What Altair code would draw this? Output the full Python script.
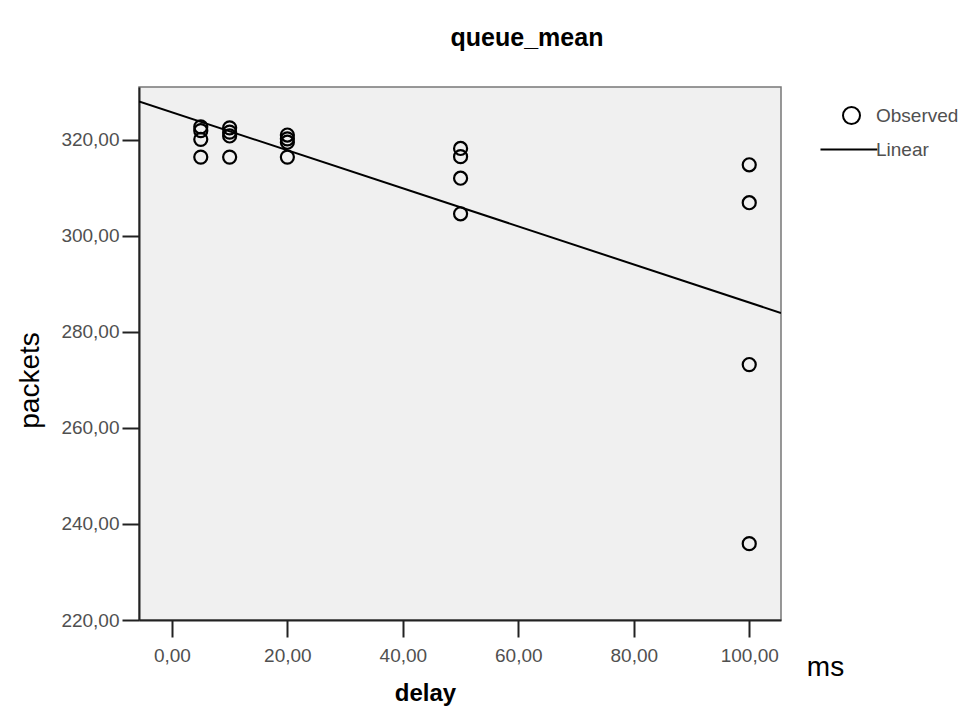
import altair as alt
import pandas as pd

# delay (ms) and queue_mean (packets) observations
delay = [5, 5, 5, 5,
         10, 10, 10, 10,
         20, 20, 20, 20,
         50, 50, 50, 50,
         100, 100, 100, 100]
queue_mean = [322.7, 321.9, 320.1, 316.4,
              322.5, 321.6, 320.8, 316.4,
              321.0, 320.2, 319.5, 316.4,
              318.2, 316.5, 312.0, 304.6,
              314.8, 306.9, 273.2, 235.9]
series = ["Observed"] * len(delay)

x_ticks = [0, 20, 40, 60, 80, 100]
y_ticks = [220, 240, 260, 280, 300, 320]
x_domain = [-5.7, 105.5]
y_domain = [220, 331]

df = pd.DataFrame({"delay": delay, "queue": queue_mean, "series": series})

FONT = "Liberation Sans"
LABEL_EXPR = "replace(format(datum.value, '.2f'), '.', ',')"

xscale = alt.Scale(domain=x_domain, nice=False, zero=False)
yscale = alt.Scale(domain=y_domain, nice=False, zero=False)

yaxis = alt.Axis(
    values=y_ticks, labelExpr=LABEL_EXPR, grid=False,
    title="packets", titleFont=FONT, titleFontSize=28, titleFontWeight="normal",
    titleColor="black", titleAngle=-90, titleAlign="center", titleBaseline="middle",
    titleX=-109, titleY=293,
    labelFont=FONT, labelFontSize=19, labelColor="#505050", labelPadding=3,
    tickSize=17, tickWidth=2, tickColor="#222", domainColor="#222", domainWidth=2,
)

xaxis = alt.Axis(
    values=x_ticks, labelExpr=LABEL_EXPR, grid=False,
    title="delay", titleFont=FONT, titleFontSize=24, titleFontWeight="bold",
    titleColor="black", titleAlign="center", titleBaseline="alphabetic",
    titleX=286, titleY=80,
    labelFont=FONT, labelFontSize=19, labelColor="#505050", labelPadding=9,
    tickSize=17, tickWidth=2, tickColor="#222", domainColor="#222", domainWidth=2,
)

xaxis_ms = alt.Axis(
    orient="top", labels=False, ticks=False, domain=False, grid=False,
    title="ms", titleFont=FONT, titleFontSize=28, titleFontWeight="normal",
    titleColor="black", titleAlign="center", titleBaseline="alphabetic",
    titleX=686, titleY=588,
)

points = alt.Chart(df).mark_point(
    filled=False, size=170, strokeWidth=2.2, color="black", opacity=1, clip=True
).encode(
    x=alt.X("delay:Q", scale=xscale, axis=xaxis),
    y=alt.Y("queue:Q", scale=yscale, axis=yaxis),
    shape=alt.Shape(
        "series:N",
        scale=alt.Scale(domain=["Observed", "Linear"],
                        range=["circle", "M-3.65,0L3.05,0"]),
        legend=alt.Legend(
            title=None, orient="none", legendX=703, legendY=19,
            padding=0, symbolSize=289, symbolStrokeWidth=2,
            symbolStrokeColor="black", symbolFillColor="transparent",
            labelFont=FONT, labelFontSize=19, labelColor="#505050",
            labelOffset=15, rowPadding=12,
        ),
    ),
)

line = alt.Chart(df).transform_regression(
    "delay", "queue", extent=x_domain
).mark_line(color="black", strokeWidth=2, clip=True).encode(
    x=alt.X("delay:Q", scale=xscale, axis=xaxis_ms),
    y=alt.Y("queue:Q", scale=yscale),
)

chart = alt.layer(points, line).resolve_axis(x="independent").properties(
    width=642, height=533,
    autosize=alt.AutoSizeParams(type="none"),
    padding={"left": 139, "top": 87, "right": 184, "bottom": 96},
    background="white",
    title=alt.TitleParams(
        text="queue_mean", font=FONT, fontSize=25, fontWeight="bold",
        color="black", anchor="middle", dx=67, offset=36,
    ),
).configure_view(
    fill="#f0f0f0", stroke="#777", strokeWidth=1.5
)

chart.save("out.html", embed_options={"renderer": "svg", "actions": False})
